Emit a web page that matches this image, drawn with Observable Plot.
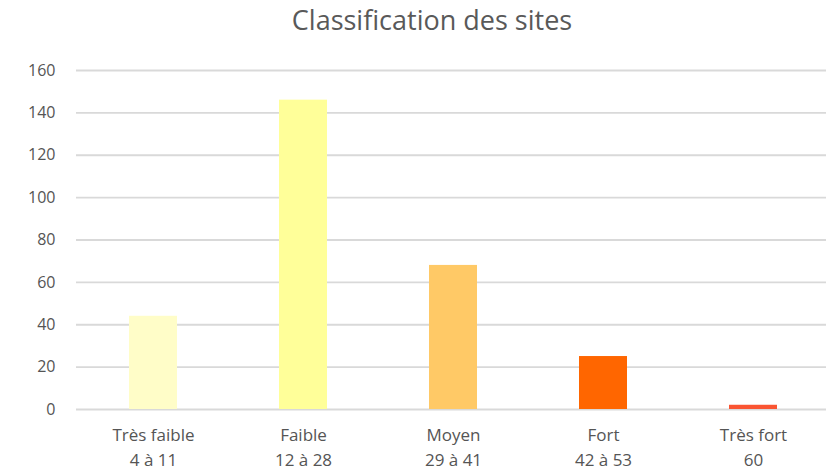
<!DOCTYPE html>
<html>
<head>
<meta charset="utf-8">
<script src="https://cdn.jsdelivr.net/npm/d3@7"></script>
<script src="https://cdn.jsdelivr.net/npm/@observablehq/plot@0.6"></script>
<style>
  html, body { margin: 0; padding: 0; background: #fff; }
  #wrap { width: 826px; height: 473px; position: relative; overflow: hidden; }
  #title { width: 826px; height: 45px; line-height: 40px; text-align: center; font-family: "Open Sans", sans-serif; font-size: 27px; color: #595959; padding-left: 38px; box-sizing: border-box; }
</style>
</head>
<body>
<div id="wrap">
  <div id="title">Classification des sites</div>
  <div id="chart"></div>
</div>
<script>
const categories = ["Très faible", "Faible", "Moyen", "Fort", "Très fort"];
const ranges = ["4 à 11", "12 à 28", "29 à 41", "42 à 53", "60"];
const values = [44, 146, 68, 25, 2];
const colors = ["#FFFDC8", "#FFFF99", "#FFC966", "#FF6600", "#FA5532"];
const yTicks = [0, 20, 40, 60, 80, 100, 120, 140, 160];

const data = categories.map((c, i) => ({cat: c, value: values[i], color: colors[i]}));

const chart = Plot.plot({
  width: 829,
  height: 428,
  marginLeft: 76,
  marginRight: 0,
  marginTop: 25,
  marginBottom: 64,
  style: {fontFamily: "'Open Sans', sans-serif", color: "#555555", background: "transparent", maxWidth: "none"},
  x: {domain: categories, paddingInner: 0.68, paddingOuter: 0.34, label: null},
  y: {domain: [0, 160], label: null},
  marks: [
    Plot.ruleY(yTicks, {stroke: "#d9d9d9", strokeWidth: 1.8}),
    Plot.barY(data, {x: "cat", y: "value", fill: "color"}),
    Plot.axisY({ticks: yTicks, tickSize: 0, tickPadding: 21, fontSize: 16, fill: "#555555", label: null}),
    Plot.axisX({tickSize: 0, tickPadding: 0, fontSize: 17, fill: "#555555", label: null,
      tickFormat: (d) => d + "\n" + ranges[categories.indexOf(d)], lineHeight: 1.45, dy: 14})
  ]
});
document.getElementById("chart").appendChild(chart);
</script>
</body>
</html>
